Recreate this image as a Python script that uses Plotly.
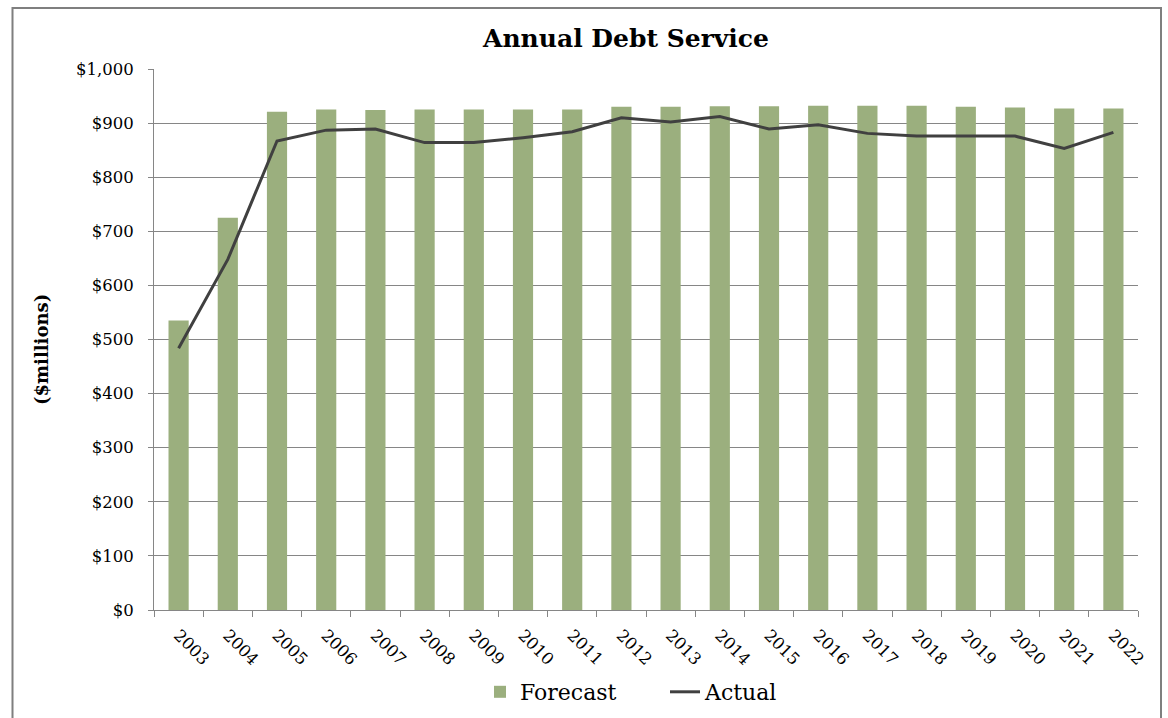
import plotly.graph_objects as go

years = [str(y) for y in range(2003, 2023)]
forecast = [535, 725, 921, 925, 924, 925, 925, 925, 925, 930, 930, 931, 931, 932, 932, 932, 930, 929, 927, 927]
actual = [484, 648, 867, 887, 889, 864, 864, 873, 884, 910, 902, 912, 889, 897, 881, 876, 876, 876, 853, 883]
y_ticks = [0, 100, 200, 300, 400, 500, 600, 700, 800, 900, 1000]

FONT = "DejaVu Serif"
L, R, T, B = 154, 30, 69, 108
W, H = 1168, 718
pw, ph = W - L - R, H - T - B

def px_x(px):
    return (px - L) / pw

def px_y(py):
    return (H - B - py) / ph

fig = go.Figure()
fig.add_trace(go.Bar(x=years, y=forecast, name="Forecast",
                     marker=dict(color="#9BAF7E", line=dict(width=0))))
fig.add_trace(go.Scatter(x=years, y=actual, name="Actual", mode="lines",
                         line=dict(color="#404040", width=3)))

fig.update_layout(
    width=W, height=H,
    margin=dict(l=L, r=R, t=T, b=B, autoexpand=False),
    paper_bgcolor="white", plot_bgcolor="white",
    font=dict(family=FONT, color="black", size=16),
    bargap=0.59,
    title=dict(text="<b>Annual Debt Service</b>", font=dict(size=25, family=FONT),
               x=px_x(626), xref="paper", xanchor="center",
               y=1 - 38 / H, yref="container", yanchor="middle"),
    showlegend=True,
    legend=dict(orientation="h", x=px_x(480), xanchor="left",
                y=1 - 692 / H, yref="container", yanchor="middle",
                font=dict(size=22, family=FONT), bgcolor="rgba(0,0,0,0)",
                entrywidth=140, entrywidthmode="pixels",
                itemwidth=30, tracegroupgap=0),
    xaxis=dict(type="category", tickangle=45, showline=True, linecolor="#868686", linewidth=1,
               ticks="outside", tickson="boundaries", ticklen=6, tickcolor="#868686",
               showgrid=False, automargin=False, ticklabelstandoff=8,
               tickfont=dict(size=16.5, family=FONT)),
    yaxis=dict(range=[0, 1000], tickvals=y_ticks, tickformat="$,.0f",
               showline=True, linecolor="#868686", linewidth=1,
               ticks="outside", ticklen=5, tickcolor="#868686",
               showgrid=True, gridcolor="#868686", gridwidth=1, automargin=False,
               ticklabelstandoff=11,
               zeroline=False, tickfont=dict(size=16.5, family=FONT)),
    annotations=[dict(text="<b>($millions)</b>", textangle=-90, x=px_x(41), y=px_y(350),
                      xref="paper", yref="paper", xanchor="center", yanchor="middle",
                      showarrow=False, font=dict(size=18, family=FONT))],
    shapes=[dict(type="rect", xref="paper", yref="paper",
                 x0=px_x(12.5), x1=px_x(1161), y0=px_y(725), y1=px_y(8),
                 line=dict(color="#7F7F7F", width=2), fillcolor="rgba(0,0,0,0)", layer="below")],
)

fig.write_html("out.html")
